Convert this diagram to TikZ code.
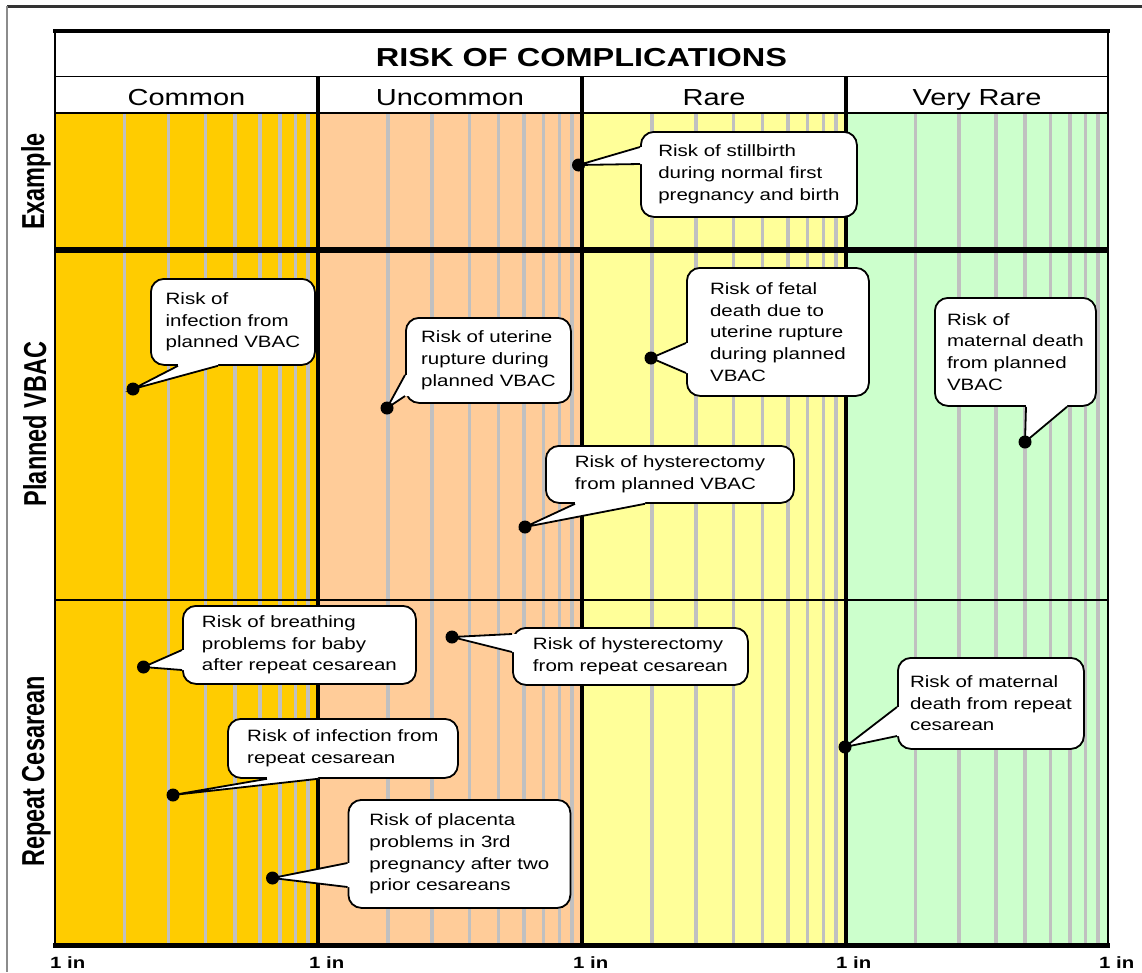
\documentclass[tikz,border=0pt]{standalone}
\usepackage{fontspec}
\usepackage{graphicx}
\setmainfont{Liberation Sans}[FakeStretch=1.25]
\newfontfamily\rowfont{Liberation Sans}
\usetikzlibrary{calc}
\definecolor{cCommon}{HTML}{FFCC00}
\definecolor{cUncommon}{HTML}{FFCC99}
\definecolor{cRare}{HTML}{FFFF99}
\definecolor{cVeryRare}{HTML}{CCFFCC}
\definecolor{gridgray}{HTML}{C0C0C0}
\pgfdeclarelayer{fg}
\pgfsetlayers{main,fg}
\tikzset{
  callbox/.style={draw=black, line width=1.8pt, fill=white, rounded corners=13pt,
    align=left, inner xsep=12pt, inner ysep=0pt, anchor=north west,
    font=\fontsize{16.4}{21.7}\selectfont},
  wedgeline/.style={draw=black, line width=1.8pt, line join=miter},
  dotnode/.style={circle, fill=black, inner sep=0pt, minimum size=13pt},
  gridline/.style={draw=gridgray, line width=3.5pt},
  header/.style={anchor=base, inner sep=0pt, font=\fontsize{23.2}{28}\selectfont},
  rowlab/.style={rotate=90, anchor=base, inner sep=0pt, font=\rowfont\bfseries\fontsize{23.5}{28}\selectfont},
  axislab/.style={anchor=base west, inner sep=0pt, font=\bfseries\fontsize{16.3}{20}\selectfont},
}
\newcommand\wedgeL[4]{%
  \fill[white] ($(#1.west |- 0,#3)+(5,0)$) -- (#1.west |- 0,#3) -- (#2.center)
     -- (#1.west |- 0,#4) -- ($(#1.west |- 0,#4)+(5,0)$) -- cycle;
  \draw[wedgeline] (#1.west |- 0,#3) -- (#2.center) -- (#1.west |- 0,#4);
}
\newcommand\wedgeB[4]{%
  \fill[white] ($(#3,0 |- #1.south)+(0,-5)$) -- (#3,0 |- #1.south) -- (#2.center)
     -- (#4,0 |- #1.south) -- ($(#4,0 |- #1.south)+(0,-5)$) -- cycle;
  \draw[wedgeline] (#3,0 |- #1.south) -- (#2.center) -- (#4,0 |- #1.south);
}
\begin{document}
\begin{tikzpicture}[x=1pt,y=-1pt]
\fill[white] (0,0) rectangle (1142,972);
\useasboundingbox (0,0) rectangle (1142,972);
% outer frame
\draw[black!80, line width=3pt] (7,6) -- (1142,6);
\draw[black!45, line width=1.2pt] (7,6) -- (7,972);
% column fills
\fill[cCommon] (55,113) rectangle (318,945);
\fill[cUncommon] (318,113) rectangle (582,945);
\fill[cRare] (582,113) rectangle (846,945);
\fill[cVeryRare] (846,113) rectangle (1108,945);
% grid lines
\foreach \a/\b in {55/318, 318/582, 582/846, 846/1108} {
  \foreach \f in {0.265,0.432,0.573,0.684,0.780,0.855,0.914,0.962} {
    \draw[gridline] ({\a+\f*(\b-\a)},113) -- ({\a+\f*(\b-\a)},945);
  }
}
% chart frame
\draw[line width=1.5pt] (55,76.5) -- (1108,76.5);
\draw[line width=2.5pt] (55,113) -- (1108,113);
\draw[line width=6pt] (55,250) -- (1108,250);
\draw[line width=2.5pt] (55,600) -- (1108,600);
\foreach \x in {318,582,846} \draw[line width=3.5pt] (\x,76.5) -- (\x,945);
\draw[line width=2pt] (55,29) -- (55,948);
\draw[line width=2pt] (1108,29) -- (1108,948);
\draw[line width=4.5pt] (53,31) -- (1110,31);
\draw[line width=5pt] (53,945.5) -- (1110,945.5);
% title and headers
\node[anchor=base, inner sep=0pt, font=\bfseries\fontsize{26}{30}\selectfont] (title) at (581.5,66.5) {RISK OF COMPLICATIONS};
\node[header] (hC) at (186.5,105) {Common};
\node[header] (hU) at (450,105) {Uncommon};
\node[header] (hR) at (714,105) {Rare};
\node[header] (hV) at (977,105) {Very Rare};
% row labels
\node[rowlab] (lEx) at (44,181.5) {\scalebox{1}[1.35]{Example}};
\node[rowlab] (lPV) at (46,424) {\scalebox{1}[1.35]{Planned VBAC}};
\node[rowlab] (lRC) at (44,771.5) {\scalebox{1}[1.35]{Repeat Cesarean}};
% axis labels
\node[axislab] (a0) at (50,968) {1 in};
\node[axislab] (a1) at (309,968) {1 in};
\node[axislab] (a2) at (573,968) {1 in};
\node[axislab] (a3) at (836,968) {1 in};
\node[axislab] (a4) at (1099,968) {1 in};
% dots
\begin{pgfonlayer}{fg}
\node[dotnode] (exd) at (578.5,165) {};
\node[dotnode] (v1d) at (133,389) {};
\node[dotnode] (v2d) at (387,408) {};
\node[dotnode] (v3d) at (651,358) {};
\node[dotnode] (v4d) at (1025,442) {};
\node[dotnode] (v5d) at (525,527) {};
\node[dotnode] (r1d) at (143.5,667) {};
\node[dotnode] (r2d) at (452,637) {};
\node[dotnode] (r3d) at (173,795) {};
\node[dotnode] (r4d) at (272.5,878) {};
\node[dotnode] (r5d) at (845,747) {};
\end{pgfonlayer}
% callouts
\node[callbox, minimum width=216pt, minimum height=85pt] (ex) at (640,131) {Risk of stillbirth\\during normal first\\pregnancy and birth};
\wedgeL{ex}{exd}{147}{164}
\node[callbox, minimum width=164pt, minimum height=86pt] (v1) at (150,278) {Risk of\\infection from\\planned VBAC};
\wedgeB{v1}{v1d}{178}{218}
\node[callbox, minimum width=165pt, minimum height=85pt] (v2) at (405,317) {Risk of uterine\\rupture during\\planned VBAC};
\wedgeL{v2}{v2d}{375}{396}
\node[callbox, minimum width=182pt, minimum height=128pt] (v3) at (686,267) {Risk of fetal\\death due to\\uterine rupture\\during planned\\VBAC};
\wedgeL{v3}{v3d}{343}{373}
\node[callbox, minimum width=161pt, minimum height=108pt] (v4) at (934,297) {Risk of\\maternal death\\from planned\\VBAC};
\wedgeB{v4}{v4d}{1026}{1067}
\node[callbox, minimum width=248pt, minimum height=57pt] (v5) at (545,445) {Risk of hysterectomy\\from planned VBAC};
\wedgeB{v5}{v5d}{575}{645}
\node[callbox, minimum width=233pt, minimum height=78pt] (r1) at (182,605) {Risk of breathing\\problems for baby\\after repeat cesarean};
\wedgeL{r1}{r1d}{650}{670}
\node[callbox, minimum width=235pt, minimum height=57pt] (r2) at (512,627) {Risk of hysterectomy\\from repeat cesarean};
\wedgeL{r2}{r2d}{634}{652}
\node[callbox, minimum width=230pt, minimum height=59pt] (r3) at (227,718) {Risk of infection from\\repeat cesarean};
\wedgeB{r3}{r3d}{267}{318}
\node[callbox, minimum width=222pt, minimum height=108pt] (r4) at (347.5,799) {Risk of placenta\\problems in 3rd\\pregnancy after two\\prior cesareans};
\wedgeL{r4}{r4d}{863}{887}
\node[callbox, minimum width=186pt, minimum height=91pt] (r5) at (897,657) {Risk of maternal\\death from repeat\\cesarean};
\wedgeL{r5}{r5d}{707}{736}
\end{tikzpicture}
\end{document}
